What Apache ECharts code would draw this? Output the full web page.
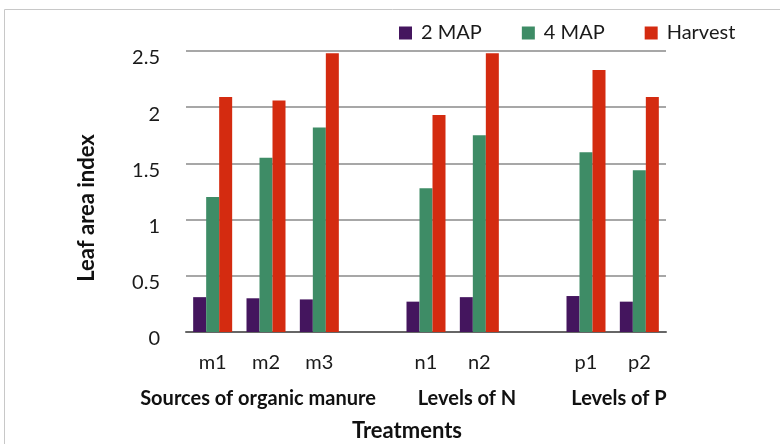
<!DOCTYPE html>
<html>
<head>
<meta charset="utf-8">
<script src="https://cdn.jsdelivr.net/npm/echarts@6/dist/echarts.min.js"></script>
<style>html,body{margin:0;padding:0;background:#fff}#c{width:780px;height:444px}</style>
</head>
<body>
<div id="c"></div>
<script>
const categories = ['m1', 'm2', 'm3', '', 'n1', 'n2', '', 'p1', 'p2'];
const seriesNames = ['2 MAP', '4 MAP', 'Harvest'];
const map2 = [0.31, 0.30, 0.29, null, 0.27, 0.31, null, 0.32, 0.27];
const map4 = [1.20, 1.55, 1.82, null, 1.28, 1.75, null, 1.60, 1.44];
const harvest = [2.09, 2.06, 2.48, null, 1.93, 2.48, null, 2.33, 2.09];
const yTicks = [0, 0.5, 1, 1.5, 2, 2.5];
const groupLabels = ['Sources of organic manure', 'Levels of N', 'Levels of P'];
const yAxisTitle = 'Leaf area index';
const xAxisTitle = 'Treatments';

const colors = ['#44155e', '#3e8c66', '#d42b10'];
const FONT = 'Lato';

const chart = echarts.init(document.getElementById('c'), null, {renderer: 'canvas'});
const option = {
  animation: false,
  color: colors,
  textStyle: {fontFamily: FONT},
  legend: {
    data: seriesNames,
    left: 394, top: 18,
    itemWidth: 13, itemHeight: 13, itemGap: 40,
    icon: 'rect',
    textStyle: {fontFamily: FONT, fontSize: 20, color: '#1a1a1a', padding: [0, 0, 0, 4]}
  },
  grid: {left: 186, right: 114, top: 51, bottom: 444 - 332},
  xAxis: {
    type: 'category',
    data: categories,
    axisLine: {show: true, lineStyle: {color: '#666', width: 2}},
    axisTick: {show: false},
    axisLabel: {fontFamily: FONT, fontSize: 20, color: '#1a1a1a', margin: 21, interval: 0}
  },
  yAxis: {
    type: 'value',
    min: yTicks[0], max: yTicks[yTicks.length - 1], interval: 0.5,
    axisLine: {show: false},
    axisTick: {show: false},
    splitLine: {lineStyle: {color: '#8a8a8a', width: 1.5}},
    axisLabel: {fontFamily: FONT, fontSize: 20, color: '#1a1a1a', margin: 26, verticalAlign: 'top', lineHeight: 14}
  },
  series: [
    {name: seriesNames[0], type: 'bar', data: map2, barWidth: 13, barGap: '0%'},
    {name: seriesNames[1], type: 'bar', data: map4, barWidth: 13, barGap: '0%'},
    {name: seriesNames[2], type: 'bar', data: harvest, barWidth: 13, barGap: '0%'}
  ],
  graphic: [
    {type: 'rect', shape: {x: 4.5, y: 9.5, width: 800, height: 500}, style: {fill: 'none', stroke: '#c8c8c8', lineWidth: 1}, silent: true, z: -1},
    {type: 'text', x: 87, y: 208, rotation: Math.PI / 2, style: {text: yAxisTitle, font: 'bold 22px ' + FONT, fill: '#111', textAlign: 'center', textVerticalAlign: 'middle'}},
    {type: 'text', x: 258, y: 399, style: {text: groupLabels[0], font: 'bold 20px ' + FONT, fill: '#111', textAlign: 'center', textVerticalAlign: 'middle'}},
    {type: 'text', x: 467, y: 399, style: {text: groupLabels[1], font: 'bold 20px ' + FONT, fill: '#111', textAlign: 'center', textVerticalAlign: 'middle'}},
    {type: 'text', x: 619, y: 399, style: {text: groupLabels[2], font: 'bold 20px ' + FONT, fill: '#111', textAlign: 'center', textVerticalAlign: 'middle'}},
    {type: 'text', x: 407, y: 431, style: {text: xAxisTitle, font: 'bold 22px ' + FONT, fill: '#111', textAlign: 'center', textVerticalAlign: 'middle'}}
  ]
};
chart.setOption(option);
</script>
</body>
</html>
